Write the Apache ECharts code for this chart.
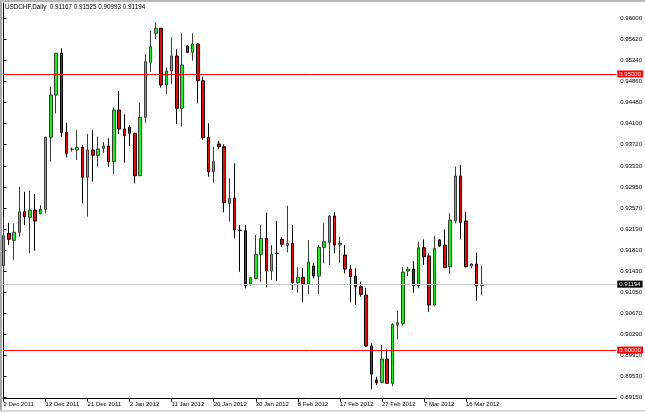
<!DOCTYPE html>
<html><head><meta charset="utf-8">
<script src="https://cdn.jsdelivr.net/npm/echarts@6/dist/echarts.min.js"></script>
<style>html,body{margin:0;padding:0;background:#fff}#c{width:645px;height:412px}</style>
</head><body><div id="c"></div>
<script>
const symbolName = 'USDCHF.Daily';
// Daily bars, index 0 = 2 Dec 2011
const opens = [0.91527,0.92114,0.91987,0.92132,0.92505,0.92404,0.92536,0.92469,0.92549,0.93853,
0.94619,0.95374,0.93943,0.93634,0.93623,0.93671,0.93128,0.93623,0.93527,0.93653,
0.93695,0.93411,0.94347,0.94003,0.94034,0.93925,0.93157,0.94215,0.95211,0.95736,
0.95827,0.94800,0.95053,0.95325,0.94378,0.95506,0.95392,0.95542,0.94878,0.93853,
0.93230,0.93731,0.93682,0.92657,0.92748,0.92170,0.92161,0.91190,0.91299,0.91734,
0.92023,0.91431,0.91754,0.92005,0.91897,0.91933,0.91219,0.91317,0.91201,0.91522,
0.91341,0.91860,0.91951,0.92427,0.91902,0.91721,0.91467,0.91341,0.91147,0.90997,
0.90073,0.89457,0.89416,0.89838,0.89397,0.90453,0.90484,0.91431,0.91467,0.91165,
0.91853,0.91703,0.90815,0.91993,0.91902,0.91509,0.92342,0.93152,0.92337,0.91522,
0.91558,0.91167];
const highs = [0.92415,0.92306,0.92295,0.92958,0.92867,0.92885,0.92826,0.92626,0.93863,0.94769,
0.95380,0.95464,0.94117,0.93671,0.93985,0.93713,0.93912,0.93985,0.93863,0.93767,
0.93834,0.94396,0.94691,0.94269,0.94075,0.93936,0.94486,0.95361,0.95778,0.95935,
0.95832,0.95120,0.95664,0.95446,0.95736,0.95524,0.95736,0.95555,0.94950,0.94106,
0.93682,0.93786,0.93726,0.93110,0.93382,0.92264,0.92264,0.91323,0.92083,0.92264,
0.92487,0.91902,0.92337,0.92052,0.92614,0.92264,0.91498,0.91486,0.91993,0.91582,
0.91902,0.92295,0.92445,0.92500,0.92052,0.91902,0.91540,0.91480,0.91237,0.91129,
0.90122,0.89517,0.90091,0.90013,0.90484,0.90712,0.91504,0.91509,0.91612,0.91962,
0.92005,0.91752,0.92065,0.92005,0.92186,0.92476,0.93320,0.93351,0.92505,0.91571,
0.91763,0.91525];
const lows = [0.91087,0.91902,0.91630,0.92052,0.92264,0.91752,0.91799,0.92458,0.92476,0.93411,
0.94287,0.93863,0.93490,0.93592,0.93441,0.92657,0.92415,0.93048,0.93320,0.93568,
0.93320,0.93188,0.93912,0.93393,0.93695,0.93019,0.93152,0.94117,0.95035,0.95633,
0.94751,0.94637,0.94818,0.94093,0.94045,0.95379,0.95240,0.94468,0.93804,0.93139,
0.93030,0.93635,0.92494,0.92324,0.92023,0.91419,0.91118,0.91165,0.91281,0.91237,
0.91136,0.91268,0.91256,0.91871,0.91770,0.91087,0.91038,0.90875,0.91015,0.91299,
0.91015,0.91571,0.91540,0.91752,0.91582,0.91390,0.90875,0.90815,0.90966,0.90060,
0.89289,0.89367,0.89397,0.89385,0.89349,0.90194,0.90444,0.91341,0.91038,0.91118,
0.91540,0.90694,0.90803,0.91871,0.91480,0.91377,0.92295,0.92005,0.91498,0.91480,
0.90893,0.90993];
const closes = [0.92071,0.92005,0.92132,0.92505,0.92415,0.92536,0.92337,0.92549,0.93853,0.94619,
0.95374,0.93936,0.93563,0.93636,0.93671,0.93128,0.93623,0.93527,0.93641,0.93695,
0.93411,0.94347,0.94003,0.93882,0.93925,0.93157,0.94215,0.95222,0.95493,0.95827,
0.94800,0.95053,0.95325,0.94378,0.95162,0.95392,0.95542,0.94878,0.93849,0.93230,
0.93411,0.93682,0.92668,0.92748,0.92174,0.92168,0.91165,0.91310,0.91734,0.92023,
0.91431,0.91734,0.91752,0.91915,0.91933,0.91219,0.91317,0.91201,0.91594,0.91341,
0.91860,0.91962,0.92427,0.91902,0.91933,0.91467,0.91328,0.91147,0.91009,0.90073,
0.89566,0.89408,0.89838,0.89397,0.90466,0.90495,0.91413,0.91467,0.91165,0.91853,
0.91690,0.90815,0.91842,0.91884,0.91498,0.92355,0.93152,0.92313,0.91509,0.91558,
0.91160,0.91194];
const dateTickIndex = [0,8,16,24,32,40,48,56,64,72,80,88];
const dateTickLabels = ['2 Dec 2011','12 Dec 2011','21 Dec 2011','2 Jan 2012','11 Jan 2012','20 Jan 2012','30 Jan 2012','8 Feb 2012','17 Feb 2012','27 Feb 2012','7 Mar 2012','16 Mar 2012'];
const priceTicks = [0.96,0.9562,0.9524,0.9486,0.9448,0.941,0.9372,0.9333,0.9295,0.9257,0.9219,0.9181,0.9143,0.9105,0.9067,0.9029,0.8991,0.8953,0.8915];
const levelLines = [0.95, 0.90];

const FONT = 'Liberation Sans';
const n = closes.length;
const candleData = [];
for (let i = 0; i < n; i++) candleData.push([i, opens[i], closes[i], lows[i], highs[i]]);
const labelMap = {};
dateTickIndex.forEach((v, k) => labelMap[v] = dateTickLabels[k]);
const last = n - 1;
const fmt = v => v.toFixed(5);

const markData = levelLines.map(v => ({
  yAxis: v,
  lineStyle: { color: '#ff0000', width: 1, type: 'solid' },
  label: { backgroundColor: '#ff0000', color: '#ffffff' }
}));
markData.push({
  yAxis: closes[last],
  lineStyle: { color: '#c8c8c8', width: 1, type: 'solid' },
  label: { backgroundColor: '#000000', color: '#ffffff' }
});

const chart = echarts.init(document.getElementById('c'), null, { renderer: 'canvas' });
chart.setOption({
  animation: false,
  backgroundColor: '#ffffff',
  title: {
    text: symbolName + '  ' + [opens[last], highs[last], lows[last], closes[last]].map(fmt).join(' '),
    left: 5, top: 4, padding: 0,
    textStyle: { fontFamily: FONT, fontSize: 6.3, fontWeight: 'normal', color: '#000' }
  },
  grid: { left: 3, right: 27.5, top: 3, bottom: 13.3 },
  xAxis: {
    type: 'value', min: -0.095, max: 116.6,
    splitLine: { show: false },
    axisLine: { onZero: false, lineStyle: { color: '#000', width: 1 } },
    axisTick: { customValues: dateTickIndex, length: 3, lineStyle: { color: '#000' } },
    axisLabel: {
      customValues: dateTickIndex, formatter: v => labelMap[v] || '',
      align: 'left', fontFamily: FONT, fontSize: 6, color: '#000', margin: 3
    }
  },
  yAxis: {
    type: 'value', position: 'right', scale: true,
    min: 0.891197, max: 0.962843,
    splitLine: { show: false },
    axisLine: { show: true, lineStyle: { color: '#000', width: 1 } },
    axisTick: { show: true, customValues: priceTicks, length: 3, lineStyle: { color: '#000' } },
    axisLabel: {
      customValues: priceTicks, formatter: v => fmt(v),
      fontFamily: FONT, fontSize: 6, color: '#000', margin: 4
    }
  },
  series: [{
    type: 'candlestick',
    data: candleData,
    encode: { x: 0, y: [1, 2, 3, 4] },
    barWidth: 3,
    clip: true,
    itemStyle: {
      color: '#00ff00', color0: '#ff0000',
      borderColor: '#3c3c3c', borderColor0: '#000000', borderWidth: 1
    },
    markLine: {
      silent: true, symbol: ['none', 'none'], precision: 5,
      label: {
        show: true, position: 'end', distance: 1, formatter: p => fmt(p.value),
        fontFamily: FONT, fontSize: 6, lineHeight: 6, padding: [0.5, 2, 0.5, 2]
      },
      data: markData
    }
  }],
  graphic: [
    { type: 'rect', shape: { x: 0, y: 0, width: 2, height: 412 }, style: { fill: '#a8a8a8' }, z: 100 },
    { type: 'rect', shape: { x: 0, y: 0, width: 645, height: 2 }, style: { fill: '#b8b8b8' }, z: 100 },
    { type: 'rect', shape: { x: 0, y: 410, width: 645, height: 2 }, style: { fill: '#d8d8d8' }, z: 100 }
  ]
});
</script></body></html>
